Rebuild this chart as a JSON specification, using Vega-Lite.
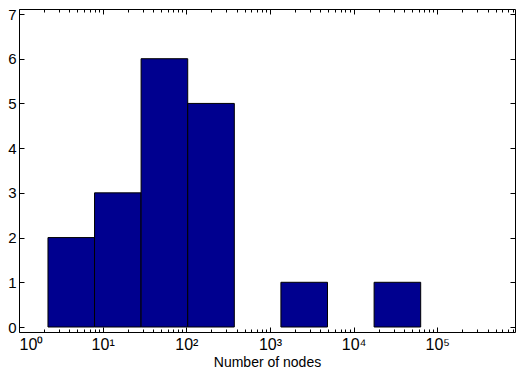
{
  "$schema": "https://vega.github.io/schema/vega-lite/v6.json",
  "width": 496,
  "height": 323,
  "autosize": "none",
  "padding": {"left": 19, "top": 9, "right": 2, "bottom": 43},
  "background": "white",
  "config": {
    "view": {"stroke": "black", "strokeWidth": 1},
    "axis": {"labelFont": "Liberation Sans", "titleFont": "Liberation Sans", "labelColor": "black", "titleColor": "black", "tickColor": "black", "domain": false, "grid": false}
  },
  "data": {"values": [
    {"lo": 2.22, "hi": 8.0, "count": 2},
    {"lo": 8.0, "hi": 28.8, "count": 3},
    {"lo": 28.8, "hi": 104, "count": 6},
    {"lo": 104, "hi": 375, "count": 5},
    {"lo": 1352, "hi": 4875, "count": 1},
    {"lo": 17580, "hi": 63400, "count": 1}
  ]},
  "resolve": {"axis": {"x": "independent", "y": "independent"}},
  "layer": [
    {
      "mark": {"type": "bar", "color": "#00008F", "stroke": "black", "strokeWidth": 1},
      "encoding": {
        "x": {"field": "lo", "type": "quantitative", "scale": {"type": "log", "domain": [1, 850000], "nice": false},
          "axis": {"orient": "bottom", "values": [1, 10, 100, 1000, 10000, 100000], "tickSize": -5, "labelPadding": 9, "labelFontSize": 16,
            "labelExpr": "'10' + ['⁰','¹','²','³','⁴','⁵'][round(log(datum.value)/LN10)]",
            "title": "Number of nodes", "titleFontSize": 14, "titleFontWeight": "normal", "titlePadding": 3}},
        "x2": {"field": "hi"},
        "y": {"field": "count", "type": "quantitative", "scale": {"domain": [0, 7], "nice": false},
          "axis": {"orient": "left", "values": [0, 1, 2, 3, 4, 5, 6, 7], "tickSize": -5, "labelPadding": 8, "labelFontSize": 15, "title": null}},
        "y2": {"datum": 0}
      }
    },
    {
      "mark": {"type": "bar", "opacity": 0},
      "encoding": {
        "x": {"field": "lo", "type": "quantitative",
          "axis": {"orient": "bottom", "values": [2,3,4,5,6,7,8,9,20,30,40,50,60,70,80,90,200,300,400,500,600,700,800,900,2000,3000,4000,5000,6000,7000,8000,9000,20000,30000,40000,50000,60000,70000,80000,90000,200000,300000,400000,500000,600000,700000,800000], "tickSize": -3, "labels": false, "title": null}},
        "x2": {"field": "hi"},
        "y": {"field": "count", "type": "quantitative",
          "axis": {"orient": "right", "values": [0, 1, 2, 3, 4, 5, 6, 7], "tickSize": -5, "labels": false, "title": null}}
      }
    },
    {
      "mark": {"type": "bar", "opacity": 0},
      "encoding": {
        "x": {"field": "lo", "type": "quantitative",
          "axis": {"orient": "top", "values": [1, 10, 100, 1000, 10000, 100000], "tickSize": -5, "labels": false, "title": null}},
        "x2": {"field": "hi"},
        "y": {"field": "count", "type": "quantitative", "axis": null}
      }
    },
    {
      "mark": {"type": "bar", "opacity": 0},
      "encoding": {
        "x": {"field": "lo", "type": "quantitative",
          "axis": {"orient": "top", "values": [2,3,4,5,6,7,8,9,20,30,40,50,60,70,80,90,200,300,400,500,600,700,800,900,2000,3000,4000,5000,6000,7000,8000,9000,20000,30000,40000,50000,60000,70000,80000,90000,200000,300000,400000,500000,600000,700000,800000], "tickSize": -3, "labels": false, "title": null}},
        "x2": {"field": "hi"},
        "y": {"field": "count", "type": "quantitative", "axis": null}
      }
    }
  ]
}
